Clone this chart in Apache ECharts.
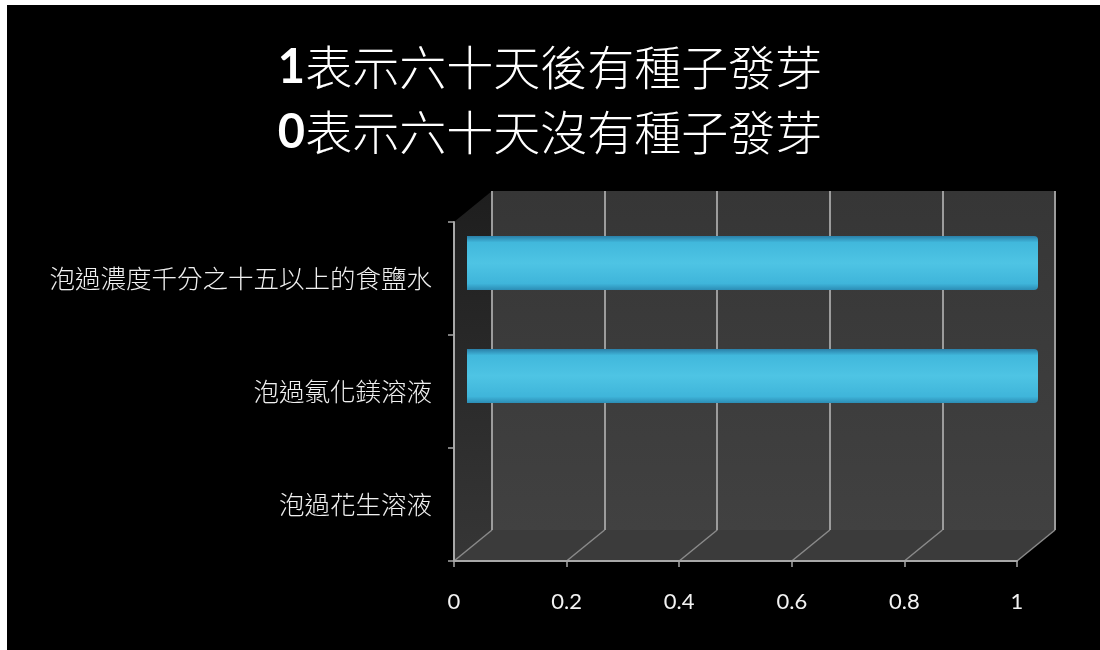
<!DOCTYPE html>
<html>
<head>
<meta charset="utf-8">
<script src="https://cdn.jsdelivr.net/npm/echarts@6/dist/echarts.min.js"></script>
<style>
  html, body { margin: 0; padding: 0; background: #000; }
  #chart { position: absolute; left: 0; top: 0; width: 1100px; height: 650px; }
  .edge { position: absolute; background: #fff; z-index: 10; }
</style>
</head>
<body>
<div id="chart"></div>
<div class="edge" style="left:0;top:0;width:7px;height:650px;"></div>
<div class="edge" style="left:0;top:0;width:1100px;height:5px;"></div>
<script>
// Seed treatments, listed bottom to top as the category axis draws them
const categories = ['泡過花生溶液', '泡過氯化鎂溶液', '泡過濃度千分之十五以上的食鹽水'];
// 1 = seeds sprouted after sixty days, 0 = none sprouted
const germinated = [0, 1, 1];
// Value-axis ticks
const xTicks = [0, 0.2, 0.4, 0.6, 0.8, 1];
const titleDigits = ['1', '0'];
const titleTexts = ['表示六十天後有種子發芽', '表示六十天沒有種子發芽'];

// Depth offset of the pseudo-3D box (front plane -> back wall)
const DX = 38, DY = -31;

const tickMin = xTicks[0];
const tickMax = xTicks[xTicks.length - 1];
const tickStep = xTicks[1] - xTicks[0];

const chart = echarts.init(document.getElementById('chart'), null, { renderer: 'canvas' });

const titleText = titleDigits.map((d, i) => '{d|' + d + '}{t|' + titleTexts[i] + '}').join('\n');

const option = {
  backgroundColor: '#000',
  animation: false,
  title: {
    text: titleText,
    left: 'center',
    top: 30,
    textStyle: {
      rich: {
        d: { fontFamily: 'Lato', fontWeight: 'bold', fontSize: 47, color: '#fff', lineHeight: 65 },
        t: { fontFamily: 'Noto Sans CJK TC', fontWeight: 300, fontSize: 47, color: '#fff', lineHeight: 65 }
      }
    }
  },
  grid: [
    // 0: front plane (visible axes)
    { left: 454, right: 83, top: 222, bottom: 89 },
    // 1: back wall (gridlines)
    { left: 454 + DX, right: 83 - DX, top: 222 + DY, bottom: 89 - DY },
    // 2: mid-depth plane (bars)
    { left: 467, right: 62, top: 222 + DY / 2, bottom: 89 - DY / 2 }
  ],
  xAxis: [
    {
      gridIndex: 0, type: 'value', min: tickMin, max: tickMax, interval: tickStep, z: 6,
      axisLine: { show: true, lineStyle: { color: '#a8a8a8', width: 2 } },
      axisTick: { show: true, length: 6, lineStyle: { color: '#a8a8a8', width: 1.5 } },
      axisLabel: { margin: 30, fontSize: 22, color: '#f2f2f2', fontFamily: 'Lato' },
      splitLine: { show: false }
    },
    {
      gridIndex: 1, type: 'value', min: tickMin, max: tickMax, interval: tickStep, z: 3,
      axisLine: { show: false }, axisTick: { show: false }, axisLabel: { show: false },
      splitLine: { show: true, lineStyle: { color: '#9c9c9c', width: 2 } }
    },
    {
      gridIndex: 2, type: 'value', min: tickMin, max: tickMax, show: false
    }
  ],
  yAxis: [
    {
      gridIndex: 0, type: 'category', data: categories, z: 6,
      axisLine: { show: true, lineStyle: { color: '#a8a8a8', width: 2 } },
      axisTick: { show: true, length: 6, lineStyle: { color: '#a8a8a8', width: 1.5 } },
      axisLabel: { margin: 22, fontSize: 25.5, fontWeight: 300, color: '#f0f0f0', fontFamily: 'Noto Sans CJK TC' },
      splitLine: { show: false }
    },
    { gridIndex: 1, type: 'category', data: categories, show: false },
    { gridIndex: 2, type: 'category', data: categories, show: false }
  ],
  series: [
    {
      // back wall, side wall and floor of the box
      type: 'custom',
      xAxisIndex: 0, yAxisIndex: 0,
      z: 1, silent: true,
      data: [[tickMin, 0]],
      renderItem: function (params) {
        const cs = params.coordSys;
        const x0 = cs.x, y0 = cs.y, w = cs.width, h = cs.height;
        return {
          type: 'group',
          children: [
            {
              type: 'rect',
              shape: { x: x0 + DX, y: y0 + DY, width: w, height: h },
              style: {
                fill: new echarts.graphic.LinearGradient(0, 0, 0, 1, [
                  { offset: 0, color: '#363636' },
                  { offset: 1, color: '#414141' }
                ])
              }
            },
            {
              type: 'polygon',
              shape: { points: [[x0, y0], [x0 + DX, y0 + DY], [x0 + DX, y0 + h + DY], [x0, y0 + h]] },
              style: {
                fill: new echarts.graphic.LinearGradient(0, 0, 0, 1, [
                  { offset: 0, color: '#1e1e1e' },
                  { offset: 1, color: '#363636' }
                ])
              }
            },
            {
              type: 'polygon',
              shape: { points: [[x0, y0 + h], [x0 + DX, y0 + h + DY], [x0 + w + DX, y0 + h + DY], [x0 + w, y0 + h]] },
              style: { fill: '#3b3b3b' }
            }
          ]
        };
      }
    },
    {
      // floor edges running from the front ticks to the back wall
      type: 'custom',
      xAxisIndex: 0, yAxisIndex: 0,
      z: 2, silent: true,
      data: xTicks.map(v => [v, 0]),
      renderItem: function (params, api) {
        const cs = params.coordSys;
        const px = api.coord([api.value(0), 0])[0];
        const yb = cs.y + cs.height;
        return {
          type: 'line',
          shape: { x1: px, y1: yb, x2: px + DX, y2: yb + DY },
          style: { stroke: '#8a8a8a', lineWidth: 1.5 }
        };
      }
    },
    {
      name: '發芽',
      type: 'bar',
      xAxisIndex: 2, yAxisIndex: 2,
      z: 4,
      barWidth: 54,
      data: germinated,
      itemStyle: {
        color: new echarts.graphic.LinearGradient(0, 0, 0, 1, [
          { offset: 0, color: '#2a7fa8' },
          { offset: 0.12, color: '#41b8dc' },
          { offset: 0.5, color: '#4ec4e4' },
          { offset: 0.88, color: '#3fb5da' },
          { offset: 1, color: '#2c8db5' }
        ]),
        borderRadius: [0, 4, 4, 0]
      }
    }
  ]
};

chart.setOption(option);
</script>
</body>
</html>
